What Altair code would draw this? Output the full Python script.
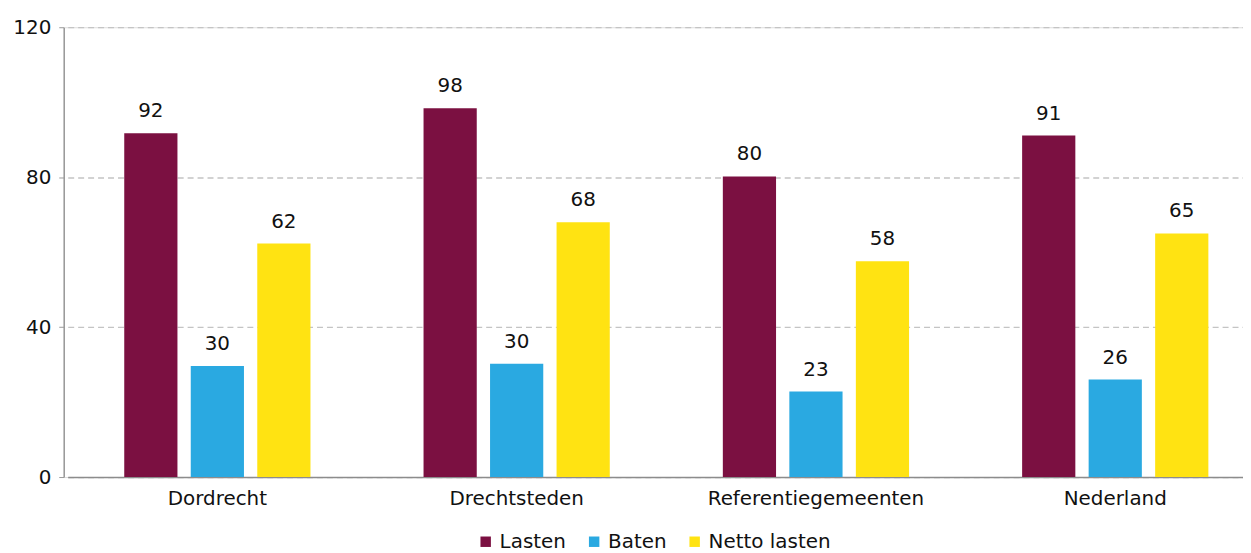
import altair as alt
import pandas as pd

regions = ["Dordrecht", "Drechtsteden", "Referentiegemeenten", "Nederland"]
series = ["Lasten", "Baten", "Netto lasten"]
lasten = [91.7, 98.4, 80.2, 91.1]
baten = [29.6, 30.2, 22.8, 26.0]
netto = [62.3, 68.0, 57.6, 65.0]
colors = ["#7B1041", "#2AA9E1", "#FFE312"]

rows = []
for i, r in enumerate(regions):
    for s, vals in zip(series, [lasten, baten, netto]):
        rows.append({"regio": r, "reeks": s, "waarde": vals[i], "label": str(round(vals[i]))})
df = pd.DataFrame(rows)

FONT = "DejaVu Sans"

x = alt.X("regio:N", sort=regions, title=None,
          scale=alt.Scale(range=[4, 1207], paddingInner=0, paddingOuter=0),
          axis=alt.Axis(labelAngle=0, labelFontSize=20, labelFont=FONT, labelColor="#111",
                        labelLimit=0, ticks=False, labelPadding=12, domainColor="#8c8c8c",
                        domainWidth=1.5))
xo = alt.XOffset("reeks:N", sort=series,
                 scale=alt.Scale(paddingInner=0.2, paddingOuter=0.85))
y = alt.Y("waarde:Q", title=None,
          scale=alt.Scale(domain=[0, 120], nice=False),
          axis=alt.Axis(values=[0, 40, 80, 120], labelFontSize=20, labelFont=FONT, labelColor="#111",
                        tickSize=5, tickColor="#999", domainColor="#999", domainWidth=1.5,
                        labelPadding=8, grid=True, gridColor="#c4c4c4", gridDash=[6, 4],
                        gridWidth=1.3))

color = alt.Color("reeks:N", sort=series,
                  scale=alt.Scale(domain=series, range=colors),
                  legend=alt.Legend(title=None, orient="none", direction="horizontal",
                                    legendX=414, legendY=507, symbolType="square",
                                    symbolSize=110, symbolStrokeWidth=0, labelFontSize=20,
                                    labelFont=FONT, labelColor="#111", columnPadding=18,
                                    labelOffset=4))

bars = alt.Chart(df).mark_bar().encode(x=x, xOffset=xo, y=y, color=color)
text = alt.Chart(df).mark_text(fontSize=20, font=FONT, color="#111", baseline="alphabetic", dy=-16).encode(
    x=alt.X("regio:N", sort=regions), xOffset=alt.XOffset("reeks:N", sort=series), y="waarde:Q", text="label:N")

chart = alt.layer(bars, text).properties(
    width=1185, height=452,
    autosize=alt.AutoSizeParams(type="none"),
    padding={"left": 56, "top": 18, "right": 0, "bottom": 75},
).configure_view(stroke=None).configure(background="white")

chart.save("out.html", embed_options={"renderer": "svg", "actions": False})
